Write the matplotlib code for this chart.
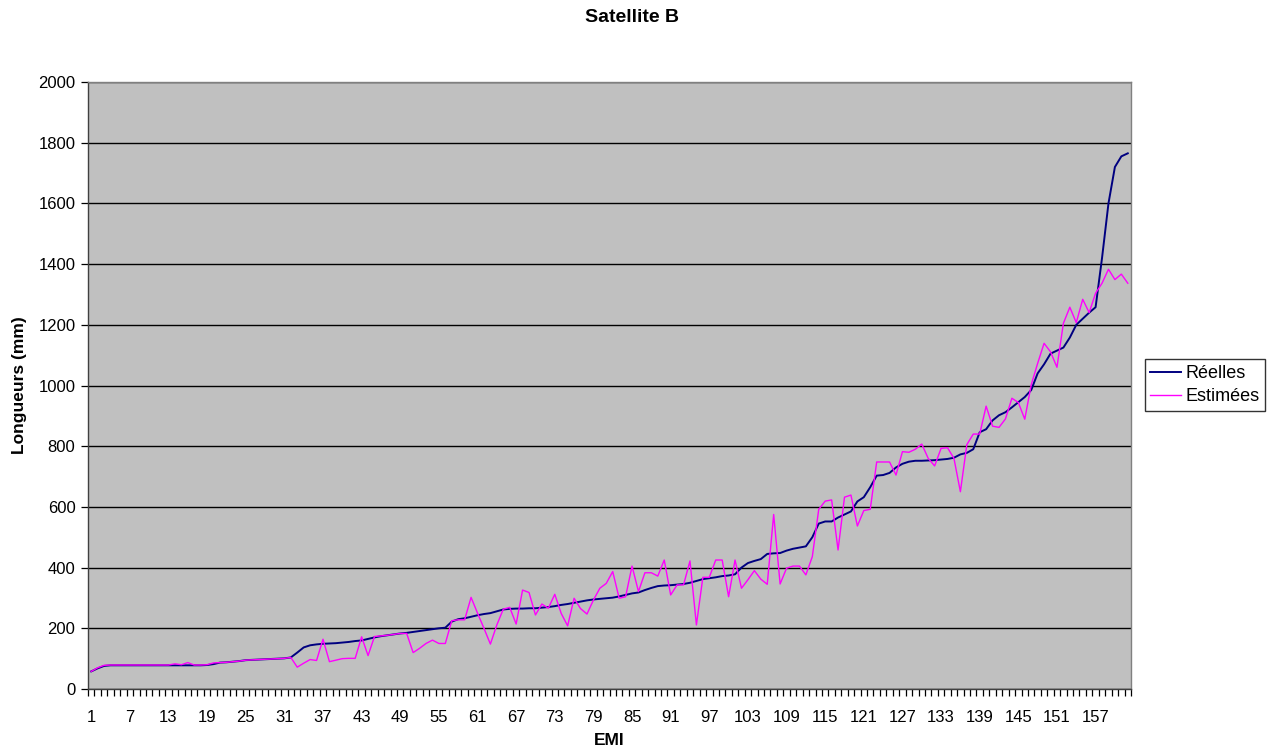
import matplotlib.pyplot as plt
import numpy as np
from matplotlib.ticker import FixedLocator

plt.rcParams["font.family"] = ["Liberation Sans", "DejaVu Sans"]

# Longueurs réelles (mm), EMI 1..162
reelles = [
    58, 68, 76, 78, 78, 78, 78, 78, 78, 78, 78, 78, 78, 78, 78, 78, 78, 78, 79, 82,
    87, 88, 90, 92, 95, 96, 97, 98, 99, 100, 101, 104, 120, 137, 144, 147, 149, 150, 151, 153,
    155, 158, 160, 165, 170, 174, 177, 180, 183, 185, 188, 191, 194, 197, 200, 202, 222, 230, 233, 238,
    243, 247, 250, 256, 262, 264, 265, 265, 266, 266, 268, 270, 273, 277, 280, 284, 288, 292, 295, 297,
    299, 301, 305, 310, 315, 318, 326, 333, 339, 341, 342, 344, 346, 350, 356, 362, 365, 368, 372, 374,
    378, 400, 415, 422, 428, 445, 447, 448, 456, 462, 466, 470, 500, 545, 552, 552, 565, 575, 585, 618,
    632, 665, 703, 705, 712, 730, 742, 749, 752, 752, 753, 754, 756, 758, 762, 773, 778, 790, 846, 856,
    885, 902, 912, 928, 945, 962, 985, 1040, 1070, 1105, 1115, 1125, 1158, 1200, 1220, 1240, 1258, 1420, 1600, 1720,
    1755, 1765,
]

# Longueurs estimées (mm)
estimees = [
    58, 70, 78, 79, 79, 79, 79, 79, 79, 79, 79, 79, 79, 83, 80, 87, 79, 79, 80, 86,
    87, 88, 90, 92, 95, 96, 97, 98, 99, 100, 101, 104, 72, 85, 97, 94, 164, 90, 95, 100,
    101, 101, 172, 110, 173, 175, 177, 180, 183, 183, 120, 134, 150, 161, 150, 150, 225, 228, 228, 302,
    250, 200, 148, 211, 263, 269, 214, 326, 318, 244, 280, 266, 312, 249, 208, 299, 265, 247, 293, 332,
    348, 387, 299, 304, 405, 321, 383, 383, 372, 425, 310, 343, 343, 422, 211, 368, 368, 425, 425, 304,
    425, 332, 360, 390, 362, 345, 575, 346, 398, 405, 405, 376, 436, 592, 619, 623, 458, 632, 639, 537,
    588, 592, 748, 748, 748, 705, 782, 780, 790, 807, 760, 735, 793, 795, 760, 650, 805, 840, 840, 932,
    866, 862, 890, 958, 944, 889, 1002, 1073, 1139, 1111, 1060, 1205, 1258, 1207, 1284, 1240, 1304, 1337, 1383, 1349,
    1367, 1337,
]

emi = np.arange(1, len(reelles) + 1)
x_labels = list(range(1, len(reelles) + 1, 6))
y_ticks = list(range(0, 2001, 200))

fig = plt.figure(figsize=(12.69, 7.54), dpi=100)
ax = fig.add_axes([88 / 1269, 1 - 689 / 754, (1131 - 88) / 1269, (689 - 82) / 754])
ax.set_facecolor("#C0C0C0")

ax.plot(emi, reelles, color="#000080", linewidth=1.4, label="Réelles")
ax.plot(emi, estimees, color="#FF00FF", linewidth=1.0, label="Estimées")

ax.set_xlim(0.5, len(reelles) + 0.5)
ax.set_ylim(0, 2000)
ax.set_yticks(y_ticks)
ax.yaxis.grid(True, color="black", linewidth=1.0)
ax.set_axisbelow(True)

ax.set_xticks(x_labels)
ax.tick_params(axis="x", which="major", length=0, pad=15, labelsize=12)
ax.xaxis.set_minor_locator(FixedLocator(np.arange(0.5, len(reelles) + 1, 1.0)))
ax.tick_params(axis="x", which="minor", length=5, width=0.9, direction="out")
ax.tick_params(axis="y", length=5, width=0.9, direction="out", labelsize=12, pad=4)

for side in ("left", "bottom"):
    ax.spines[side].set_color("#404040")
    ax.spines[side].set_linewidth(1.0)
for side in ("top", "right"):
    ax.spines[side].set_color("#808080")
    ax.spines[side].set_linewidth(1.0)

ax.set_xlabel("EMI", fontsize=12.5, fontweight="bold", labelpad=6)
ax.set_ylabel("Longueurs (mm)", fontsize=12.5, fontweight="bold", labelpad=8)
fig.text(632 / 1269, 1 - 18 / 754, "Satellite B", ha="center", va="center",
         fontsize=14, fontweight="bold")

leg = fig.legend(loc="center left", bbox_to_anchor=(1145 / 1269, 1 - 385 / 754),
                 fontsize=13, frameon=True, fancybox=False, borderpad=0.3,
                 borderaxespad=0, handlelength=1.7, handletextpad=0.25,
                 labelspacing=0.35)
leg.get_frame().set_edgecolor("black")
leg.get_frame().set_linewidth(1.0)

fig.savefig("out.png", dpi=100)
